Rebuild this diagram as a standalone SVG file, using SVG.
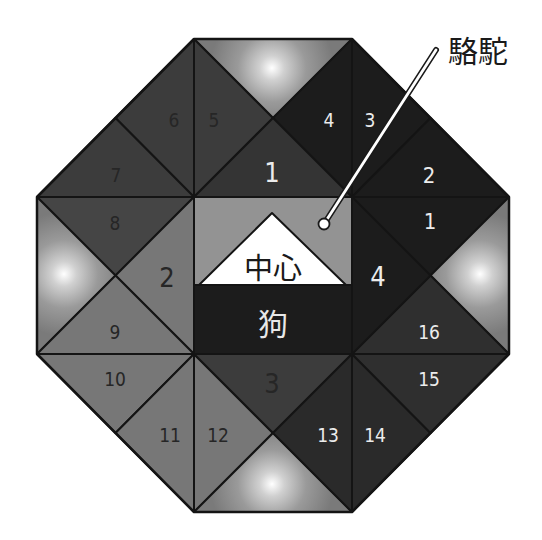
<svg xmlns="http://www.w3.org/2000/svg" width="542" height="540" viewBox="0 0 542 540">
<style>
.pc{stroke:#141414;stroke-width:2;stroke-linejoin:round}
.dg{fill:#3c3c3c}
.d1{fill:#343434}
.d8{fill:#454545}
.mg{fill:#777777}
.bk{fill:#1c1c1c}
.br{fill:#2a2a2a}
.b16{fill:#2f2f2f}
.n{font-family:"DejaVu Sans Condensed","DejaVu Sans",sans-serif;font-size:19px;text-anchor:middle}
.big{font-size:27px}
.mid{font-size:22px}
.dk{fill:#262626}
.wt{fill:#ececec}
.cjk{font-family:"Noto Sans CJK JP","Noto Sans CJK SC",sans-serif;text-anchor:middle}
</style>
<defs>
<radialGradient id="gT" gradientUnits="userSpaceOnUse" cx="272" cy="68" r="62">
<stop offset="0" stop-color="#ffffff"/>
<stop offset="0.2" stop-color="#d0d0d0"/>
<stop offset="0.55" stop-color="#9a9a9a"/>
<stop offset="1" stop-color="#7a7a7a"/>
</radialGradient>
<radialGradient id="gL" href="#gT" cx="64" cy="274"/>
<radialGradient id="gR" href="#gT" cx="480" cy="274"/>
<radialGradient id="gB" href="#gT" cx="272" cy="484"/>
</defs>
<rect width="542" height="540" fill="#ffffff"/>

<g id="glow-top"><polygon class="pc" fill="url(#gT)" points="194,39 352,39 273,118"/></g>
<g id="piece-5"><polygon class="pc dg" points="194,39 273,118 194,197"/><text class="n dk" x="214" y="127">5</text></g>
<g id="piece-4-top"><polygon class="pc bk" points="352,39 352,197 273,118"/><text class="n wt" x="329" y="127">4</text></g>
<g id="piece-1-top"><polygon class="pc d1" points="194,197 352,197 273,118"/><text class="n big wt" x="272" y="182">1</text></g>

<g id="piece-6"><polygon class="pc dg" points="194,39 115.5,118 194,197"/><text class="n dk" x="174" y="127">6</text></g>
<g id="piece-7"><polygon class="pc dg" points="37,197 115.5,118 194,197"/><text class="n dk" x="116" y="182">7</text></g>

<g id="piece-8"><polygon class="pc d8" points="37,197 194,197 115.5,275.5"/><text class="n dk" x="115" y="230">8</text></g>
<g id="glow-left"><polygon class="pc" fill="url(#gL)" points="37,197 37,354 115.5,275.5"/></g>
<g id="piece-2-left"><polygon class="pc mg" points="194,197 194,354 115.5,275.5"/><text class="n big dk" x="167" y="287">2</text></g>
<g id="piece-9"><polygon class="pc mg" points="37,354 194,354 115.5,275.5"/><text class="n dk" x="115" y="339">9</text></g>

<g id="piece-10"><polygon class="pc mg" points="37,354 194,354 115.5,433"/><text class="n dk" x="115" y="386">10</text></g>
<g id="piece-11"><polygon class="pc mg" points="194,354 194,512 115.5,433"/><text class="n dk" x="170" y="442">11</text></g>

<g id="piece-12"><polygon class="pc mg" points="194,354 194,512 273,433"/><text class="n dk" x="218" y="442">12</text></g>
<g id="piece-3-bottom"><polygon class="pc dg" points="194,354 352,354 273,433"/><text class="n big dk" x="272" y="393">3</text></g>
<g id="glow-bottom"><polygon class="pc" fill="url(#gB)" points="194,512 352,512 273,433"/></g>
<g id="piece-13"><polygon class="pc br" points="352,354 352,512 273,433"/><text class="n wt" x="328" y="442">13</text></g>

<g id="piece-14"><polygon class="pc br" points="352,354 352,512 430.5,433"/><text class="n wt" x="375" y="442">14</text></g>
<g id="piece-15"><polygon class="pc b16" points="352,354 509,354 430.5,433"/><text class="n wt" x="429" y="386">15</text></g>

<g id="piece-1-right"><polygon class="pc bk" points="352,197 509,197 430.5,275.5"/><text class="n mid wt" x="430" y="229">1</text></g>
<g id="glow-right"><polygon class="pc" fill="url(#gR)" points="509,197 509,354 430.5,275.5"/></g>
<g id="piece-16"><polygon class="pc b16" points="352,354 509,354 430.5,275.5"/><text class="n wt" x="429" y="339">16</text></g>
<g id="piece-4-right"><polygon class="pc bk" points="352,197 352,354 430.5,275.5"/><text class="n big wt" x="378" y="286">4</text></g>

<g id="piece-3-top"><polygon class="pc bk" points="352,39 430.5,118 352,197"/><text class="n wt" x="370" y="127">3</text></g>
<g id="piece-2-top"><polygon class="pc bk" points="430.5,118 509,197 352,197"/><text class="n mid wt" x="429" y="183">2</text></g>

<g id="center">
<rect class="pc" x="194" y="197" width="158" height="88" fill="#939393"/>
<polygon class="pc" fill="#ffffff" points="272,213 199,285 346,285"/>
<text class="cjk" x="273" y="279" font-size="29" fill="#1a1a1a">中心</text>
</g>
<g id="dog">
<rect class="pc bk" x="194" y="285" width="158" height="69"/>
<text class="cjk" x="273" y="335" font-size="30" fill="#e8e8e8">狗</text>
</g>

<g id="outline"><polygon fill="none" stroke="#141414" stroke-width="2.5" stroke-linejoin="round" points="194,39 352,39 509,197 509,354 352,512 194,512 37,354 37,197"/></g>

<g id="connectors">
<line x1="324" y1="224" x2="436" y2="50" stroke="#1a1a1a" stroke-width="6" stroke-linecap="round"/>
<line x1="324" y1="224" x2="436" y2="50" stroke="#ffffff" stroke-width="2.8" stroke-linecap="round"/>
<circle cx="324" cy="224" r="5.5" fill="#ffffff" stroke="#1a1a1a" stroke-width="1.8"/>
</g>
<g id="label-camel"><text class="cjk" x="478" y="62" font-size="30" fill="#1a1a1a">駱駝</text></g>
</svg>
